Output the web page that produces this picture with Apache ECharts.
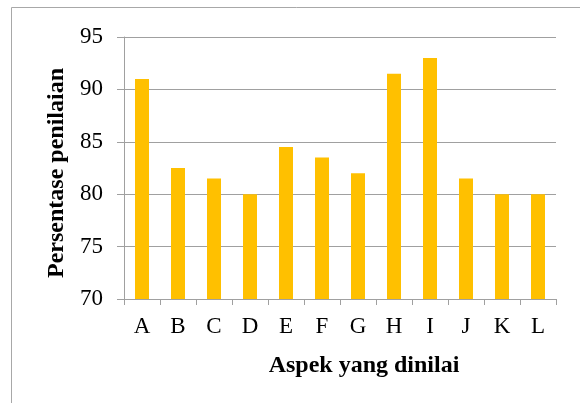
<!DOCTYPE html>
<html>
<head>
<meta charset="utf-8">
<script src="https://cdn.jsdelivr.net/npm/echarts@6/dist/echarts.min.js"></script>
<style>
  html, body { margin: 0; padding: 0; background: #fff; }
  #chart { width: 580px; height: 403px; }
</style>
</head>
<body>
<div id="chart"></div>
<script>
// Aspects rated and their assessment percentages
var categories = ['A', 'B', 'C', 'D', 'E', 'F', 'G', 'H', 'I', 'J', 'K', 'L'];
var scores = [91, 82.5, 81.5, 80, 84.5, 83.5, 82, 91.5, 93, 81.5, 80, 80];
var yTicks = [70, 75, 80, 85, 90, 95];

var serif = '"Liberation Serif", "Times New Roman", serif';
var chart = echarts.init(document.getElementById('chart'), null, { renderer: 'canvas' });

chart.setOption({
  animation: false,
  backgroundColor: '#ffffff',
  graphic: [{
    type: 'rect',
    shape: { x: 11.5, y: 7.5, width: 600, height: 420 },
    style: { fill: 'none', stroke: '#a8a8a8', lineWidth: 1 },
    silent: true
  }],
  grid: { left: 124, right: 24, top: 37, bottom: 104, containLabel: false },
  xAxis: {
    type: 'category',
    data: categories,
    name: 'Aspek yang dinilai',
    nameLocation: 'middle',
    nameGap: 55,
    nameTextStyle: {
      fontFamily: serif, fontWeight: 'bold', fontSize: 24, color: '#000',
      padding: [0, 0, 0, 48]
    },
    axisLine: { lineStyle: { color: '#a0a0a0', width: 1 } },
    axisTick: { show: true, length: 6, alignWithLabel: false, lineStyle: { color: '#a0a0a0' } },
    axisLabel: { fontFamily: serif, fontSize: 23, color: '#000', margin: 16 }
  },
  yAxis: {
    type: 'value',
    min: yTicks[0],
    max: yTicks[yTicks.length - 1],
    interval: 5,
    name: 'Persentase penilaian',
    nameLocation: 'middle',
    nameGap: 51,
    nameRotate: 90,
    nameTextStyle: {
      fontFamily: serif, fontWeight: 'bold', fontSize: 24, color: '#000',
      padding: [0, 10, 0, 0]
    },
    axisLine: { show: true, lineStyle: { color: '#a0a0a0', width: 1 } },
    axisTick: { show: true, length: 7, inside: false, lineStyle: { color: '#a0a0a0' } },
    axisLabel: { fontFamily: serif, fontSize: 23, color: '#000', margin: 21 },
    splitLine: { show: true, lineStyle: { color: '#a0a0a0', width: 1 } }
  },
  series: [{
    type: 'bar',
    data: scores,
    barWidth: 14,
    itemStyle: { color: '#FFC000' }
  }]
});
</script>
</body>
</html>
